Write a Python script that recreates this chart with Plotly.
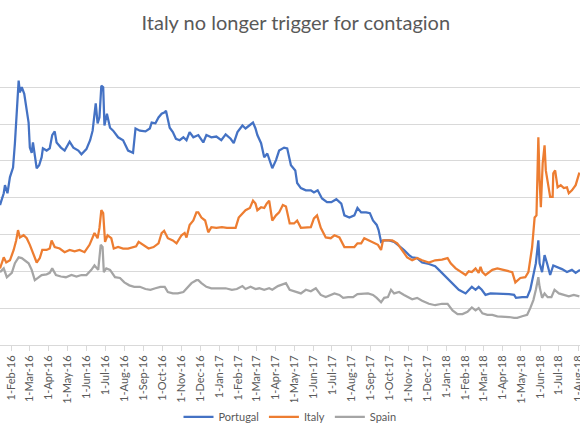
import plotly.graph_objects as go

# Portugal (spread)
pt_dates = [
    "2016-01-14", "2016-01-20", "2016-01-22", "2016-01-26", "2016-01-30", "2016-02-04", "2016-02-07",
    "2016-02-10", "2016-02-13", "2016-02-15", "2016-02-18", "2016-02-22", "2016-02-26", "2016-02-29",
    "2016-03-02", "2016-03-05", "2016-03-07", "2016-03-10", "2016-03-13", "2016-03-17", "2016-03-21",
    "2016-03-23", "2016-03-29", "2016-04-03", "2016-04-07", "2016-04-11", "2016-04-14", "2016-04-21",
    "2016-04-27", "2016-05-05", "2016-05-11", "2016-05-19", "2016-05-24", "2016-06-01", "2016-06-07",
    "2016-06-11", "2016-06-13", "2016-06-16", "2016-06-19", "2016-06-22", "2016-06-25", "2016-06-28",
    "2016-06-30", "2016-07-04", "2016-07-09", "2016-07-14", "2016-07-22", "2016-07-30", "2016-08-07",
    "2016-08-15", "2016-08-19", "2016-08-26", "2016-09-04", "2016-09-11", "2016-09-14", "2016-09-20",
    "2016-09-25", "2016-09-30", "2016-10-05", "2016-10-07", "2016-10-13", "2016-10-18", "2016-10-23",
    "2016-10-29", "2016-11-04", "2016-11-09", "2016-11-14", "2016-11-20", "2016-11-28", "2016-12-06",
    "2016-12-11", "2016-12-19", "2016-12-27", "2017-01-04", "2017-01-11", "2017-01-19", "2017-01-24",
    "2017-01-30", "2017-02-07", "2017-02-12", "2017-02-18", "2017-02-24", "2017-02-28", "2017-03-03",
    "2017-03-09", "2017-03-14", "2017-03-19", "2017-03-27", "2017-04-02", "2017-04-07", "2017-04-15",
    "2017-04-20", "2017-04-26", "2017-05-03", "2017-05-06", "2017-05-12", "2017-05-20", "2017-05-28",
    "2017-06-02", "2017-06-08", "2017-06-15", "2017-06-23", "2017-06-30", "2017-07-08", "2017-07-16",
    "2017-07-21", "2017-07-29", "2017-08-06", "2017-08-11", "2017-08-17", "2017-08-25", "2017-08-31",
    "2017-09-05", "2017-09-11", "2017-09-14", "2017-09-18", "2017-09-23", "2017-10-01", "2017-10-09",
    "2017-10-17", "2017-10-25", "2017-11-02", "2017-11-07", "2017-11-15", "2017-11-23", "2017-12-04",
    "2017-12-14", "2017-12-20", "2017-12-28", "2018-01-05", "2018-01-13", "2018-01-21", "2018-02-01",
    "2018-02-06", "2018-02-11", "2018-02-17", "2018-02-22", "2018-02-27", "2018-03-05", "2018-03-13",
    "2018-03-21", "2018-04-01", "2018-04-12", "2018-04-20", "2018-04-23", "2018-05-03", "2018-05-11",
    "2018-05-16", "2018-05-21", "2018-05-25", "2018-05-29", "2018-05-31", "2018-06-04", "2018-06-08",
    "2018-06-12", "2018-06-17", "2018-06-22", "2018-06-28", "2018-07-06", "2018-07-14", "2018-07-22",
    "2018-07-28", "2018-08-04",
]
pt_values = [
    190, 206, 217, 206, 228, 241, 274, 318, 359, 343, 350, 341, 318, 302,
    268, 261, 275, 255, 240, 244, 255, 267, 264, 267, 285, 290, 275, 268,
    264, 276, 268, 264, 259, 266, 278, 291, 308, 328, 301, 309, 352, 350,
    298, 314, 295, 291, 282, 278, 264, 261, 294, 291, 290, 294, 302, 301,
    309, 314, 316, 318, 295, 289, 280, 278, 282, 278, 289, 282, 285, 275,
    285, 282, 283, 278, 286, 280, 274, 289, 298, 294, 298, 302, 294, 285,
    274, 255, 260, 240, 251, 264, 268, 267, 244, 237, 220, 213, 210, 210,
    207, 210, 199, 194, 194, 198, 192, 176, 173, 176, 186, 180, 180, 179,
    169, 163, 156, 140, 142, 142, 140, 135, 129, 122, 119, 118, 112, 110,
    107, 102, 95, 88, 81, 75, 70, 75, 79, 75, 79, 75, 68, 70,
    70, 70, 69, 68, 64, 65, 65, 75, 98, 111, 142, 111, 99, 122,
    111, 95, 108, 106, 103, 99, 102, 98, 102,
]

# Italy
it_dates = [
    "2016-01-14", "2016-01-20", "2016-01-24", "2016-01-30", "2016-02-05", "2016-02-09", "2016-02-12",
    "2016-02-15", "2016-02-21", "2016-02-26", "2016-03-02", "2016-03-07", "2016-03-13", "2016-03-18",
    "2016-03-22", "2016-03-29", "2016-04-03", "2016-04-06", "2016-04-11", "2016-04-19", "2016-04-27",
    "2016-05-05", "2016-05-13", "2016-05-21", "2016-05-29", "2016-06-06", "2016-06-14", "2016-06-19",
    "2016-06-22", "2016-06-25", "2016-06-28", "2016-07-01", "2016-07-05", "2016-07-11", "2016-07-15",
    "2016-07-22", "2016-07-30", "2016-08-07", "2016-08-15", "2016-08-20", "2016-08-24", "2016-09-01",
    "2016-09-09", "2016-09-17", "2016-09-25", "2016-09-30", "2016-10-04", "2016-10-10", "2016-10-18",
    "2016-10-24", "2016-11-01", "2016-11-06", "2016-11-09", "2016-11-14", "2016-11-20", "2016-11-25",
    "2016-11-28", "2016-12-03", "2016-12-09", "2016-12-14", "2016-12-19", "2016-12-27", "2017-01-05",
    "2017-01-13", "2017-01-21", "2017-01-27", "2017-02-01", "2017-02-07", "2017-02-12", "2017-02-19",
    "2017-02-24", "2017-02-28", "2017-03-03", "2017-03-09", "2017-03-14", "2017-03-18", "2017-03-22",
    "2017-03-27", "2017-04-02", "2017-04-07", "2017-04-13", "2017-04-18", "2017-04-24", "2017-05-01",
    "2017-05-06", "2017-05-12", "2017-05-20", "2017-05-28", "2017-06-02", "2017-06-07", "2017-06-13",
    "2017-06-21", "2017-06-29", "2017-07-05", "2017-07-13", "2017-07-21", "2017-07-29", "2017-08-06",
    "2017-08-11", "2017-08-17", "2017-08-22", "2017-08-30", "2017-09-07", "2017-09-13", "2017-09-18",
    "2017-09-21", "2017-09-29", "2017-10-06", "2017-10-14", "2017-10-22", "2017-10-30", "2017-11-07",
    "2017-11-15", "2017-11-23", "2017-12-04", "2017-12-14", "2017-12-25", "2018-01-03", "2018-01-08",
    "2018-01-16", "2018-01-24", "2018-02-01", "2018-02-06", "2018-02-11", "2018-02-17", "2018-02-22",
    "2018-02-25", "2018-02-28", "2018-03-05", "2018-03-11", "2018-03-16", "2018-03-24", "2018-04-04",
    "2018-04-12", "2018-04-17", "2018-04-22", "2018-04-30", "2018-05-08", "2018-05-13", "2018-05-19",
    "2018-05-23", "2018-05-26", "2018-05-29", "2018-05-31", "2018-06-02", "2018-06-05", "2018-06-08",
    "2018-06-10", "2018-06-14", "2018-06-17", "2018-06-21", "2018-06-22", "2018-06-25", "2018-06-29",
    "2018-07-04", "2018-07-09", "2018-07-14", "2018-07-17", "2018-07-22", "2018-07-28", "2018-08-03",
]
it_values = [
    104, 119, 112, 115, 129, 142, 156, 146, 149, 145, 136, 125, 112, 118,
    129, 129, 131, 142, 133, 131, 126, 129, 127, 129, 126, 136, 152, 145,
    159, 183, 179, 140, 149, 145, 131, 133, 131, 131, 133, 134, 140, 136,
    131, 133, 138, 152, 155, 145, 142, 138, 149, 152, 146, 163, 169, 180,
    180, 173, 169, 153, 160, 159, 160, 159, 159, 159, 173, 179, 183, 186,
    196, 192, 183, 187, 186, 192, 196, 169, 176, 180, 190, 188, 165, 165,
    169, 159, 160, 160, 172, 176, 159, 146, 145, 149, 146, 133, 133, 133,
    138, 138, 145, 142, 138, 136, 129, 142, 142, 142, 138, 129, 119, 115,
    118, 115, 112, 115, 116, 118, 111, 104, 99, 95, 100, 99, 104, 98,
    106, 99, 95, 99, 102, 104, 102, 100, 99, 85, 91, 92, 99, 133,
    173, 176, 282, 224, 187, 247, 271, 237, 213, 201, 201, 233, 237, 214,
    217, 213, 214, 206, 210, 217, 234,
]

# Spain
es_dates = [
    "2016-01-14", "2016-01-20", "2016-01-25", "2016-02-02", "2016-02-07", "2016-02-13", "2016-02-18",
    "2016-02-23", "2016-02-29", "2016-03-05", "2016-03-10", "2016-03-15", "2016-03-21", "2016-03-29",
    "2016-04-03", "2016-04-07", "2016-04-13", "2016-04-21", "2016-04-29", "2016-05-08", "2016-05-16",
    "2016-05-24", "2016-06-01", "2016-06-09", "2016-06-14", "2016-06-20", "2016-06-24", "2016-06-27",
    "2016-06-29", "2016-07-03", "2016-07-09", "2016-07-17", "2016-07-25", "2016-08-01", "2016-08-09",
    "2016-08-17", "2016-08-26", "2016-09-04", "2016-09-12", "2016-09-20", "2016-09-28", "2016-10-05",
    "2016-10-10", "2016-10-18", "2016-10-26", "2016-11-04", "2016-11-09", "2016-11-17", "2016-11-25",
    "2016-11-28", "2016-12-03", "2016-12-11", "2016-12-19", "2016-12-30", "2017-01-11", "2017-01-21",
    "2017-01-29", "2017-02-07", "2017-02-12", "2017-02-20", "2017-02-28", "2017-03-06", "2017-03-14",
    "2017-03-22", "2017-03-27", "2017-04-05", "2017-04-13", "2017-04-18", "2017-04-24", "2017-05-03",
    "2017-05-12", "2017-05-20", "2017-05-28", "2017-06-05", "2017-06-13", "2017-06-21", "2017-06-29",
    "2017-07-05", "2017-07-13", "2017-07-19", "2017-07-27", "2017-08-04", "2017-08-11", "2017-08-20",
    "2017-08-28", "2017-09-05", "2017-09-11", "2017-09-18", "2017-09-23", "2017-09-29", "2017-10-04",
    "2017-10-09", "2017-10-17", "2017-10-25", "2017-11-01", "2017-11-07", "2017-11-15", "2017-11-23",
    "2017-12-04", "2017-12-14", "2017-12-25", "2018-01-03", "2018-01-11", "2018-01-19", "2018-01-27",
    "2018-02-04", "2018-02-11", "2018-02-17", "2018-02-22", "2018-02-28", "2018-03-08", "2018-03-16",
    "2018-03-24", "2018-04-04", "2018-04-12", "2018-04-20", "2018-04-25", "2018-05-03", "2018-05-11",
    "2018-05-16", "2018-05-21", "2018-05-25", "2018-05-29", "2018-05-31", "2018-06-04", "2018-06-08",
    "2018-06-13", "2018-06-19", "2018-06-24", "2018-07-01", "2018-07-09", "2018-07-17", "2018-07-25",
    "2018-08-03",
]
es_values = [
    99, 104, 92, 98, 111, 119, 118, 115, 111, 102, 88, 91, 95, 96,
    98, 104, 95, 93, 92, 95, 93, 95, 95, 102, 108, 102, 136, 133,
    99, 104, 102, 92, 91, 85, 81, 79, 79, 76, 75, 77, 79, 79,
    72, 70, 70, 72, 77, 84, 88, 88, 84, 79, 77, 77, 77, 75,
    76, 80, 76, 79, 76, 77, 75, 77, 75, 80, 83, 84, 75, 72,
    70, 75, 73, 77, 68, 65, 68, 70, 68, 64, 65, 65, 69, 70,
    70, 68, 64, 58, 64, 65, 75, 70, 72, 68, 65, 62, 64, 60,
    56, 54, 56, 56, 47, 42, 42, 45, 51, 47, 50, 43, 41, 41,
    39, 39, 38, 37, 37, 39, 41, 50, 61, 75, 92, 79, 64, 70,
    65, 65, 75, 70, 68, 66, 68, 66,
]

fig = go.Figure()
fig.add_trace(go.Scatter(x=pt_dates, y=pt_values, mode="lines", name="Portugal",
                         line=dict(color="#4472C4", width=2.25)))
fig.add_trace(go.Scatter(x=it_dates, y=it_values, mode="lines", name="Italy",
                         line=dict(color="#ED7D31", width=2.25)))
fig.add_trace(go.Scatter(x=es_dates, y=es_values, mode="lines", name="Spain",
                         line=dict(color="#A5A5A5", width=2.25)))

fig.update_layout(
    width=580,
    height=435,
    margin=dict(l=0, r=0, t=50, b=90, autoexpand=False),
    paper_bgcolor="white",
    plot_bgcolor="white",
    font=dict(family="Lato", color="#595959"),
    title=dict(text="Italy no longer trigger for contagion", x=0.51, xanchor="center",
               y=1 - 23 / 435, yanchor="middle", font=dict(size=20, color="#595959")),
    legend=dict(orientation="h", x=0.5, xanchor="center", y=-0.244, yanchor="middle",
                font=dict(size=11, color="#595959"), itemwidth=30),
    xaxis=dict(
        type="date",
        range=["2016-01-14", "2018-08-04"],
        tick0="2016-01-01",
        dtick="M1",
        tickformat="%-d-%b-%y",
        tickangle=-90,
        ticks="outside",
        ticklen=5,
        tickcolor="#D9D9D9",
        tickfont=dict(size=11, color="#595959"),
        ticklabeloverflow="allow",  # the last label runs off the edge, as in the source
        showgrid=False,
        showline=True,
        linecolor="#D9D9D9",
        automargin=False,
    ),
    yaxis=dict(
        range=[0, 400.5],
        tick0=0,
        dtick=50,
        showticklabels=False,
        gridcolor="#D9D9D9",
        zeroline=False,
        automargin=False,
    ),
)

# the page has a default 8px body margin; drop it so the figure fills the window
fig.write_html("out.html", config={"displayModeBar": False},
               post_script="document.body.style.margin = '0';")
